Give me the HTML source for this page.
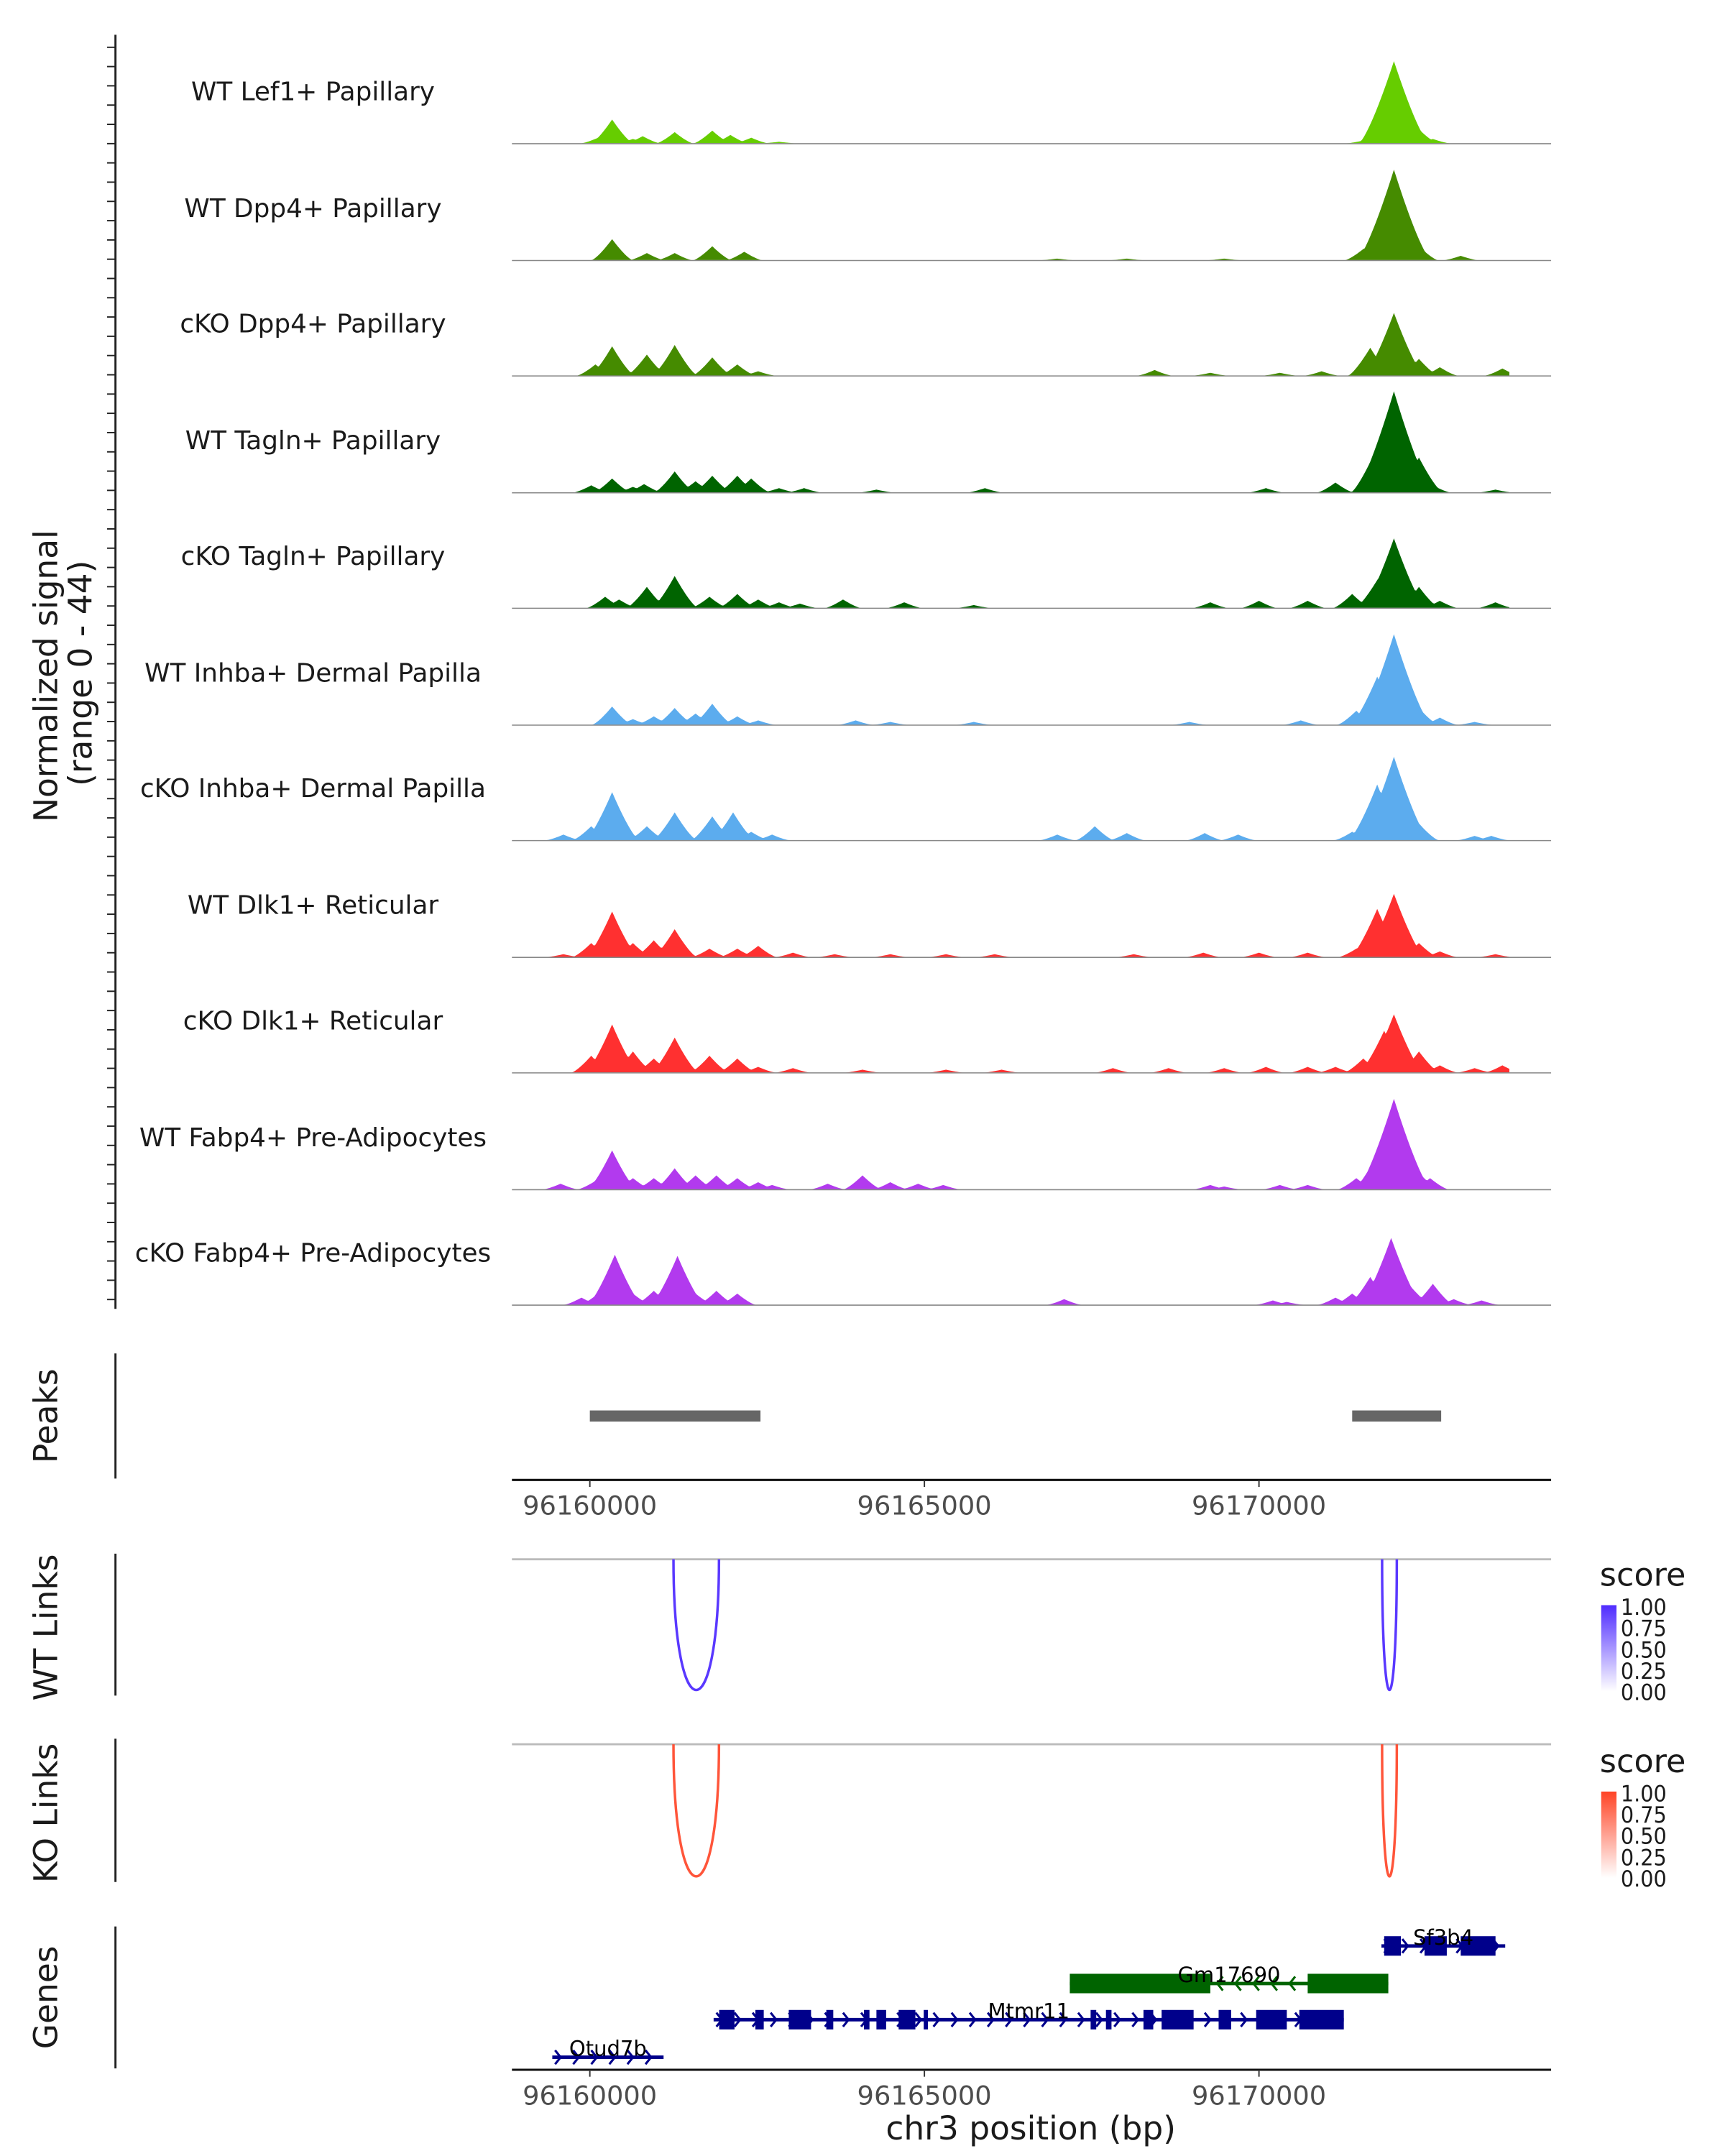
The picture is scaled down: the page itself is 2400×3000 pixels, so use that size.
<!DOCTYPE html>
<html><head><meta charset="utf-8"><style>
html,body{margin:0;padding:0;background:#fff;}
svg{display:block;font-family:"DejaVu Sans","Liberation Sans",sans-serif;}
</style></head><body>
<svg id="chart" width="2400" height="3000" viewBox="0 0 1240 1550" xmlns="http://www.w3.org/2000/svg">
<rect width="1240" height="1550" fill="#fff"/>
<g id="tracks"></g>
<g id="axes"></g>
<g id="peaks"></g>
<g id="links"></g>
<g id="genes"></g>
</svg>
<script>
const NS="http://www.w3.org/2000/svg";
const trackNames=["WT Lef1+ Papillary","WT Dpp4+ Papillary","cKO Dpp4+ Papillary","WT Tagln+ Papillary","cKO Tagln+ Papillary","WT Inhba+ Dermal Papilla","cKO Inhba+ Dermal Papilla","WT Dlk1+ Reticular","cKO Dlk1+ Reticular","WT Fabp4+ Pre-Adipocytes","cKO Fabp4+ Pre-Adipocytes"];
const trackColors=["#66CD00","#458B00","#458B00","#006400","#006400","#5CACEE","#5CACEE","#FF3030","#FF3030","#B23AEE","#B23AEE"];
const BASE=96160000;
const peakPos=[
[333,125,644,790,1268,1830,2100,2412,2827,12017,12391,11767,11559,12599],
[333,852,1268,1830,2308,6985,8025,9480,11559,12017,12391,13015],
[333,83,852,1268,1830,2204,2516,8441,9272,11663,12017,12391,12703,13638,10936,10312],
[21,333,644,811,1268,1580,1830,2204,2412,2827,3202,4283,5904,10104,11143,11767,12017,12391,12599,13534],
[229,437,852,1268,1788,2204,2516,2827,3139,3784,4699,5738,9272,10000,10728,11393,11767,12017,12391,12703,13534],
[333,644,956,1268,1580,1830,2204,2516,3971,4491,5738,8960,10624,11455,11767,12017,12391,12703,13223],
[-395,21,333,852,1268,1830,2141,2412,2723,6985,7547,8025,9189,9688,11393,11767,12017,12391,13223,13472],
[-395,21,333,644,956,1268,1788,2204,2516,3035,3659,4491,5322,6050,8129,9168,10000,10728,11455,11767,12017,12391,12703,13534],
[21,333,644,956,1268,1788,2204,2516,3035,4075,5322,6154,7817,8649,9480,10104,10728,11143,11559,11871,12017,12391,12703,13223,13638],
[-437,83,333,644,956,1268,1580,1892,2204,2516,2723,3555,4075,4491,4906,5281,9272,9480,10312,10728,11455,11767,12017,12391,12557],
[-125,125,374,644,956,1310,1580,1892,2204,7089,10208,10416,11143,11393,11663,11975,12287,12599,12911,13327]];
const peakVal=[
[9.4,2.2,1.7,2.8,4.4,5,3.3,2.2,0.6,32.5,5.5,3.3,1.1,1.7],
[8.3,2.8,2.8,5.5,3.3,0.6,0.6,0.6,4.4,35.8,5.5,1.7],
[11.6,4.4,8.3,12.1,7.2,4.4,1.7,2.2,1.1,11,24.8,6.6,3.3,2.8,1.7,1.1],
[2.8,5.5,2.2,3.3,8.3,4.4,6.6,6.6,5.5,1.7,1.7,1.1,1.7,1.7,3.9,18,40,13.8,2.8,1.1],
[4.4,3.3,8.3,12.6,4.4,5.5,3.3,2.2,1.7,3.3,2.2,1.1,2.2,2.8,2.8,5.5,11,27.5,8.3,2.8,2.2],
[7.2,2.2,3.3,6.6,4.4,8.3,3.3,1.7,1.7,1.1,1.1,1.1,1.7,5.5,19,35.8,6.6,2.8,1.1],
[2.2,5.5,19,5.5,11,9.4,11,3.3,2.2,2.2,5.5,2.8,2.8,2.2,3.3,22,33,6.6,1.7,1.7],
[1.1,5.5,18,5.5,6.6,11,3.3,3.3,4.4,1.7,1.1,1.1,1.1,1.1,1.1,1.7,1.7,1.7,3.3,19,25,5.5,2.2,1.1],
[6.6,19,8.3,5.5,13.8,6.6,5.5,2.2,1.7,1.1,1.1,1.1,1.7,1.7,1.7,2.2,2.2,2.2,5.5,16.5,23,8.3,2.8,1.7,2.8],
[2.2,3.3,15.4,4.4,4.4,8.3,5.5,5.5,4.4,2.8,1.7,2.2,5.5,2.8,2.2,1.7,1.7,1.1,1.7,1.7,4.4,13.8,35.8,6.6,4.4],
[2.8,4.4,19.8,4.4,5.5,19.3,4.4,5.5,4.4,2.2,1.7,1.1,2.8,4.4,11,26.4,6.6,8.3,2.2,1.7]];
const xTicks=[96160000,96165000,96170000];
const peakStarts=[96160000,96171393];
const peakEnds=[96162550,96172723];
const linkStart=[96161250,96171840];
const linkEnd=[96161930,96172060];
const wtScore=[0.9,0.9];
const koScore=[0.85,0.85];
const geneNames=["Sf3b4","Gm17690","Mtmr11","Otud7b"];
const geneStart=[96171830,96167173,96161850,96159439];
const geneEnd=[96173680,96171933,96171268,96161102];
const geneStrand=[1,-1,1,1];
const geneExons=[
[[96171871,96172121],[96172474,96172807],[96173015,96173535]],
[[96167173,96169273],[96170728,96171933]],
[[96161933,96162162],[96162474,96162599],[96162973,96163306],[96163534,96163638],[96164096,96164179],[96164283,96164428],[96164615,96164865],[96164990,96165052],[96167484,96167568],[96167713,96167796],[96168274,96168420],[96168545,96169023],[96169397,96169584],[96169958,96170416],[96170603,96171268]],
[]];
const geneColors=["#00008B","#006400","#00008B","#00008B"];
const legendTicks=["1.00","0.75","0.50","0.25","0.00"];

const X0=368,X1=1115;
const xs=bp=>424+(bp-BASE)*0.0481;
const YMAX=44, TH=80;
function mk(tag,attrs,parent,txt){const e=document.createElementNS(NS,tag);for(const k in attrs)e.setAttribute(k,attrs[k]);if(txt!==undefined)e.textContent=txt;parent.appendChild(e);return e;}

const gT=document.getElementById('tracks');
const baselines=[103,187,270,354,437,521,604,688,771,855,938];
trackNames.forEach((nm,i)=>{
  const g=mk('g',{},gT);
  
  
  const by=baselines[i];
  const t=mk('text',{x:225,y:by-31,'text-anchor':'middle','font-size':18.5,fill:'#1a1a1a'},g,nm);
  
  
  let d='M'+X0+','+by;
  for(let px=X0;px<=X1-30;px+=1){
    const bp=BASE+(px-424)/0.0481;
    let v=0;
    peakPos[i].forEach((p,k)=>{const h=peakVal[i][k];const w=230+h*9;const f=1-Math.abs(bp-(BASE+p))/w;if(f>0)v=Math.max(v,h*Math.pow(f,1.3));});
    d+=' L'+px+','+(by-v/YMAX*TH).toFixed(2);
  }
  d+=' L'+(X1-30)+','+by+' Z';
  const a=mk('path',{d:d,fill:trackColors[i]},g);
  
  
  const l=mk('line',{x1:X0,x2:X1,y1:by+0.3,y2:by+0.3,stroke:'#888','stroke-width':0.8},g);
  
  
});

const gA=document.getElementById('axes');
const ya=mk('line',{x1:83,x2:83,y1:25,y2:941,stroke:'#222','stroke-width':1.5},gA);


for(let y=34;y<=940;y+=13.85){const tk=mk('line',{x1:77,x2:83,y1:y,y2:y,stroke:'#222','stroke-width':1},gA);
  
  }
const yt=mk('text',{transform:'translate(41,486) rotate(-90)','text-anchor':'middle','font-size':23.5,fill:'#1a1a1a'},gA,'Normalized signal');


const yt2=mk('text',{transform:'translate(66,484) rotate(-90)','text-anchor':'middle','font-size':23.5,fill:'#1a1a1a'},gA,'(range 0 - 44)');



function xAxis(y,parent,nm){
  const g=mk('g',{},parent);
  
  
  mk('line',{x1:X0,x2:X1,y1:y,y2:y,stroke:'#111','stroke-width':1.6},g);
  xTicks.forEach(t=>{mk('line',{x1:xs(t),x2:xs(t),y1:y,y2:y+5,stroke:'#333','stroke-width':1},g);
    const tx=mk('text',{x:xs(t),y:y+25,'text-anchor':'middle','font-size':19,fill:'#4d4d4d'},g,String(t));
    
    });
}
function sideTitle(txt,yc,y1,y2,parent,nm){
  const t=mk('text',{transform:'translate(41,'+yc+') rotate(-90)','text-anchor':'middle','font-size':23.5,fill:'#1a1a1a'},parent,txt);
  
  
  const l=mk('line',{x1:83,x2:83,y1:y1,y2:y2,stroke:'#222','stroke-width':1.5},parent);
  
  
}
const gP=document.getElementById('peaks');
sideTitle('Peaks',1018,973,1063,gP,'peaks-title');
peakStarts.forEach((s,i)=>{const r=mk('rect',{x:xs(s),y:1014,width:xs(peakEnds[i])-xs(s),height:8,fill:'#666'},gP);
  
  });
xAxis(1064,gP,'peaks-x-axis');

const gL=document.getElementById('links');
function linkPanel(top,bottom,title,scores,col,lgY,id){
  sideTitle(title,(top+bottom)/2+2,top-4,bottom+4,gL,title.toLowerCase().replace(' ','-')+'-title');
  mk('line',{x1:X0,x2:X1,y1:top,y2:top,stroke:'#bbb','stroke-width':1.5},gL);
  linkStart.forEach((s,i)=>{const a=xs(s),b=xs(linkEnd[i]);const dep=(bottom-top)*1.333;
    const p=mk('path',{d:`M${a},${top} C${a},${top+dep} ${b},${top+dep} ${b},${top}`,fill:'none',stroke:col,'stroke-width':1.8,'stroke-opacity':0.4+0.6*scores[i]},gL);
    
    });
  const lg=mk('g',{},gL);
  
  
  mk('text',{x:1150,y:lgY,'font-size':23,fill:'#1a1a1a'},lg,'score');
  const defs=mk('defs',{},lg);const gr=mk('linearGradient',{id:id,x1:0,y1:1,x2:0,y2:0},defs);
  mk('stop',{offset:0,'stop-color':'#fff'},gr);mk('stop',{offset:1,'stop-color':col},gr);
  mk('rect',{x:1151,y:lgY+14,width:11,height:62,fill:`url(#${id})`},lg);
  legendTicks.forEach((t,k)=>{mk('text',{x:1165,y:lgY+21+k*15.3,'font-size':16,fill:'#1a1a1a',textLength:33,lengthAdjust:'spacingAndGlyphs'},lg,t);});
}
linkPanel(1121,1215,'WT Links',wtScore,'#4F2CFF',1140,'gw');
linkPanel(1254,1349,'KO Links',koScore,'#FF4426',1274,'gk');

const gG=document.getElementById('genes');
sideTitle('Genes',1436,1385,1487,gG,'genes-title');
const rowY=[1399,1426,1452,1479];
geneNames.forEach((nm,i)=>{
  const g=mk('g',{},gG);
  
  
  const y=rowY[i],c=geneColors[i],a=xs(geneStart[i]),b=xs(geneEnd[i]);
  mk('line',{x1:a,x2:b,y1:y,y2:y,stroke:c,'stroke-width':2.5},g);
  for(let x=a+4;x<b-2;x+=13){const s=geneStrand[i];
    mk('polyline',{points:`${x-2*s},${y-5} ${x+2*s},${y} ${x-2*s},${y+5}`,fill:'none',stroke:c,'stroke-width':1.6},g);}
  geneExons[i].forEach(e=>{mk('rect',{x:xs(e[0]),y:y-7,width:xs(e[1])-xs(e[0]),height:14,fill:c},g);});
  mk('text',{x:(a+b)/2,y:y-1,'text-anchor':'middle','font-size':15,fill:'#000'},g,nm);
});
xAxis(1488,gG,'genes-x-axis');
const xt=mk('text',{x:741,y:1538,'text-anchor':'middle','font-size':23.5,fill:'#1a1a1a'},gG,'chr3 position (bp)');


</script>
</body></html>
